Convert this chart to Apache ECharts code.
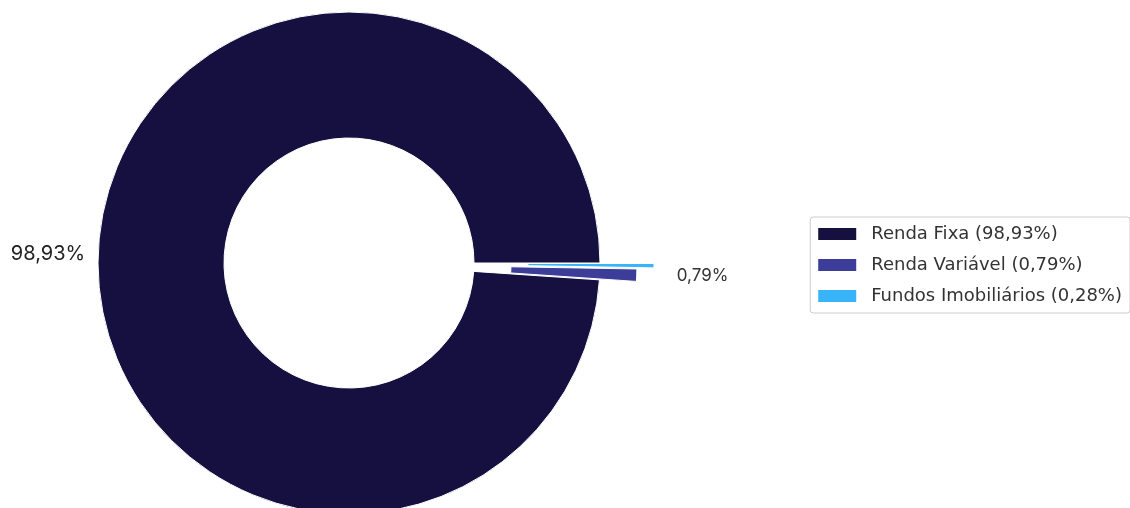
<!DOCTYPE html>
<html>
<head>
<meta charset="utf-8">
<script src="https://cdn.jsdelivr.net/npm/echarts@6/dist/echarts.min.js"></script>
<style>
html,body{margin:0;padding:0;background:#fff;}
#c{width:1130px;height:508px;}
</style>
</head>
<body>
<div id="c"></div>
<script>
const categories = ['Renda Fixa', 'Renda Variável', 'Fundos Imobiliários'];
const values = [98.93, 0.79, 0.28];
const colors = ['#15103f', '#3c3c99', '#3ab4f8'];

function pct(v) { return v.toFixed(2).replace('.', ',') + '%'; }

const chart = echarts.init(document.getElementById('c'));

const labelCfg = [
  { show: true, fontSize: 20, color: '#222', fontFamily: 'Inter' },
  { show: true, fontSize: 17, color: '#333', fontFamily: 'Inter' },
  { show: false }
];
const lineCfg = [
  { show: false, length: 8, length2: 0 },
  { show: false, length: 20, length2: 15 },
  { show: false }
];

// series A: Renda Fixa + Renda Variável; series B: Fundos Imobiliários only (different explode offset)
function buildData(visibleIdx, selectedIdx) {
  return categories.map((name, i) => {
    const vis = visibleIdx.includes(i);
    return {
      name: name,
      value: values[i],
      selected: selectedIdx.includes(i),
      itemStyle: { color: vis ? colors[i] : 'rgba(0,0,0,0)', borderColor: vis ? '#fff' : 'rgba(0,0,0,0)', borderWidth: vis ? 1 : 0 },
      label: vis ? labelCfg[i] : { show: false },
      labelLine: vis ? lineCfg[i] : { show: false }
    };
  });
}

const base = {
  type: 'pie',
  center: [349, 263],
  radius: [125, 251],
  startAngle: 0,
  clockwise: false,
  selectedMode: 'multiple',
  avoidLabelOverlap: false,
  animation: false,
  emphasis: { disabled: true },
  label: {
    position: 'outside',
    formatter: p => pct(p.value)
  }
};

chart.setOption({
  animation: false,
  legend: {
    orient: 'vertical',
    right: 0,
    top: 217,
    padding: [7, 8, 7, 8],
    itemGap: 11,
    itemWidth: 38,
    itemHeight: 12,
    itemStyle: { borderWidth: 0 },
    icon: 'rect',
    borderColor: '#ccc',
    borderWidth: 1,
    borderRadius: 3,
    selectedMode: false,
    textStyle: { fontSize: 18, lineHeight: 20, color: '#333', fontFamily: 'DejaVu Sans', padding: [0, 0, 0, 10] },
    data: categories.map((n, i) => ({ name: n, itemStyle: { color: colors[i] } })),
    formatter: name => name + ' (' + pct(values[categories.indexOf(name)]) + ')'
  },
  series: [
    Object.assign({}, base, { selectedOffset: 37, data: buildData([0, 1], [1]) }),
    Object.assign({}, base, { selectedOffset: 54, silent: true, data: buildData([2], [2]) })
  ]
});
</script>
</body>
</html>
